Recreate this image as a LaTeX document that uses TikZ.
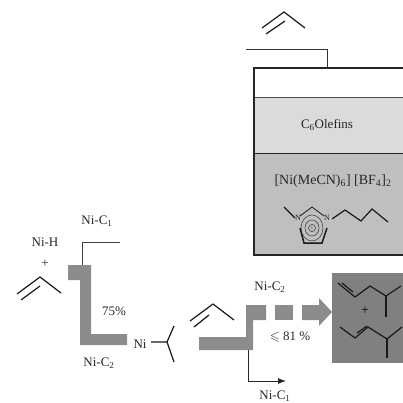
\documentclass[tikz,border=0pt]{standalone}
\usepackage{fontspec}
\setmainfont{Liberation Serif}
\usepackage{amssymb}
\usetikzlibrary{arrows.meta}
\definecolor{grigioFlusso}{gray}{0.55}
\definecolor{grigioProdotti}{gray}{0.5}
\definecolor{grigioOlefine}{gray}{0.86}
\definecolor{grigioLiquido}{gray}{0.75}
\tikzset{
  legame/.style={line width=1.2pt, black!90},
  etichetta/.style={font=\fontsize{13}{15}\selectfont, text=black!85, inner sep=0pt}
}
\begin{document}
\begin{tikzpicture}[x=1pt, y=-1pt]
    \useasboundingbox (0,0) rectangle (403,403);
    % Reattore
    \fill[grigioOlefine] (254,97) rectangle (403,154);
    \fill[grigioLiquido] (254,154) rectangle (403,255);
    \draw[line width=0.6pt, black!70] (254,97) -- (403,97);
    \draw[line width=1pt, black!85] (254,154) -- (403,154);
    \draw[line width=1.1pt, black!85] (403,68) -- (254,68) -- (254,255) -- (403,255);
    % Alimentazione
    \coordinate (ingresso) at (246,49);
    \coordinate (gomito) at (327,49);
    \coordinate (reattore) at (327,68);
    \draw[line width=0.9pt, black!80] (ingresso) -- (gomito) -- (reattore);
    \draw[legame] (262,28) -- (284,12) -- (305,28);
    \draw[legame] (266,34) -- (285,21);
    % Testi reattore
    \node[etichetta] (olefine) at (327,125) {C\textsubscript{6}Olefins};
    \node[etichetta, font=\fontsize{14}{16}\selectfont] (catalizzatore) at (333,181) {[Ni(MeCN)\textsubscript{6}] [BF\textsubscript{4}]\textsubscript{2}};
    % Liquido ionico
    \draw[legame] (284,207) -- (295,218);
    \draw[line width=0.9pt, black!85] (300,216) -- (312,207) -- (324,216);
    \draw[legame] (332,219) -- (345,210) -- (361,221) -- (372,209) -- (388,222);
    \draw[line width=1.5pt, black!90] (300,228) -- (304,243) -- (322,243) -- (327,228);
    \draw[line width=0.5pt, black!80] (312,228) ellipse (11pt and 13pt);
    \draw[line width=0.5pt, black!80] (312,228) ellipse (7pt and 8pt);
    \draw[line width=0.5pt, black!80] (312,228) circle (3.5pt);
    \node[etichetta, font=\fontsize{8}{9}\selectfont] (azotoA) at (298,218) {N};
    \node[etichetta, font=\fontsize{8}{9}\selectfont] (azotoB) at (327,218) {N};
    \node[etichetta, font=\fontsize{5}{6}\selectfont] (carica) at (312,228) {+};
    % Primo stadio
    \fill[grigioFlusso] (68,265) -- (91,265) -- (91,334) -- (127,334) -- (127,345) -- (80,345) -- (80,280) -- (68,280) -- cycle;
    \coordinate (uscitaA) at (82,265);
    \coordinate (gomitoA) at (82,242);
    \coordinate (fineA) at (120,242);
    \draw[line width=0.7pt, black!75] (uscitaA) -- (gomitoA) -- (fineA);
    \node[etichetta] (niCa) at (97,221) {Ni-C\textsubscript{1}};
    \node[etichetta] (niH) at (45,242) {Ni-H};
    \node[etichetta] (piu) at (45,264) {+};
    \node[etichetta] (resa) at (114,311) {75\%};
    \node[etichetta] (niCb) at (99,363) {Ni-C\textsubscript{2}};
    \node[etichetta] (ni) at (140,344) {Ni};
    \draw[legame] (17,294) -- (40,277) -- (61,293);
    \draw[legame] (21,300) -- (40,286);
    % Isobutile
    \draw[legame] (151,342) -- (167,342) -- (174,326);
    \draw[legame] (167,342) -- (174,362);
    % Secondo stadio
    \draw[legame] (190,321) -- (213,304) -- (234,320);
    \draw[legame] (194,327) -- (209,315);
    \fill[grigioFlusso] (199,337) -- (246,337) -- (246,305) -- (266,305) -- (266,320) -- (253,320) -- (253,350) -- (199,350) -- cycle;
    \fill[grigioFlusso] (275,305) rectangle (293,320);
    \fill[grigioFlusso] (302,305) -- (319,305) -- (319,298) -- (332,312) -- (319,326) -- (319,320) -- (302,320) -- cycle;
    \node[etichetta] (niCc) at (270,287) {Ni-C\textsubscript{2}};
    \node[etichetta] (selettivita) at (290,337) {$\leqslant$ 81 \%};
    \node[etichetta] (niCd) at (275,396) {Ni-C\textsubscript{1}};
    \coordinate (uscitaB) at (248,350);
    \coordinate (gomitoB) at (248,381);
    \coordinate (fineB) at (286,381);
    \draw[line width=0.9pt, black!85, -{Latex[length=8pt, width=6pt]}] (uscitaB) -- (gomitoB) -- (fineB);
    % Prodotti
    \fill[grigioProdotti] (332,273) rectangle (403,363);
    \draw[legame] (338,283) -- (355,297) -- (370,286) -- (386,296) -- (401,286);
    \draw[legame] (386,296) -- (386,317);
    \draw[legame] (342,283) -- (353,292);
    \node[etichetta, text=black] (piuB) at (365,311) {+};
    \draw[legame] (340,327) -- (355,338) -- (368,327) -- (387,339) -- (402,327);
    \draw[legame] (387,339) -- (387,358);
    \draw[legame] (357,333) -- (367,326);
\end{tikzpicture}
\end{document}
